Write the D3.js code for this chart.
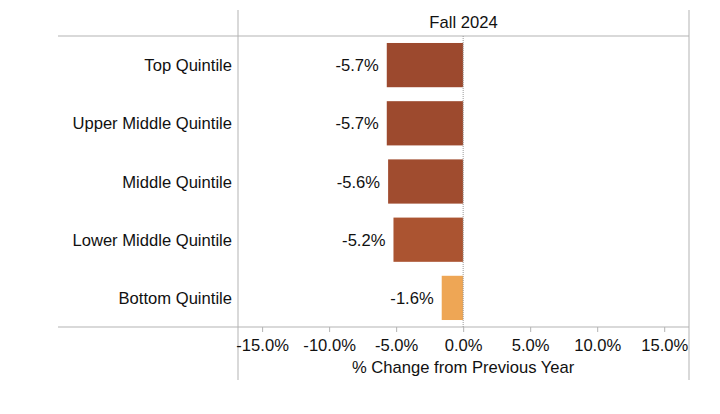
<!DOCTYPE html>
<html><head><meta charset="utf-8">
<script src="https://cdn.jsdelivr.net/npm/d3@7"></script>
<style>body{margin:0;background:#fff}text{font-family:"Liberation Sans",Arial,sans-serif;fill:#111}</style>
</head><body><svg id="c" width="720" height="414"></svg>
<script>
const categories = ["Top Quintile","Upper Middle Quintile","Middle Quintile","Lower Middle Quintile","Bottom Quintile"];
const values = [-5.7,-5.7,-5.6,-5.2,-1.6];
const barColors = ["#9c492e","#9d4a2e","#a04c2f","#ab5431","#eea655"];
const tickValues = [-15,-10,-5,0,5,10,15];
const title = "Fall 2024";
const axisTitle = "% Change from Previous Year";

const svg = d3.select("#c");
const L = 238, R = 689, T = 36, B = 327;
const FS = 16.6;
const x = d3.scaleLinear().domain([-16.8,16.85]).range([L,R]);
const y = d3.scaleBand().domain(categories).range([T,B]).paddingInner(0.24).paddingOuter(0.12);
const grey = "#b3b3b3";

svg.append("line").attr("x1",L).attr("x2",L).attr("y1",10).attr("y2",380).attr("stroke",grey);
svg.append("line").attr("x1",R).attr("x2",R).attr("y1",10).attr("y2",380).attr("stroke",grey);
svg.append("line").attr("x1",58).attr("x2",R).attr("y1",T).attr("y2",T).attr("stroke",grey);
svg.append("line").attr("x1",58).attr("x2",R).attr("y1",B).attr("y2",B).attr("stroke",grey);

svg.append("text").attr("x",(L+R)/2).attr("y",28).attr("text-anchor","middle").attr("font-size",FS).text(title);

svg.selectAll("rect.bar").data(values).join("rect")
  .attr("x",d=>x(Math.min(0,d))).attr("width",d=>Math.abs(x(d)-x(0)))
  .attr("y",(d,i)=>y(categories[i])).attr("height",y.bandwidth())
  .attr("fill",(d,i)=>barColors[i]);

svg.append("line").attr("x1",x(0)).attr("x2",x(0)).attr("y1",T).attr("y2",B)
  .attr("stroke","#999").attr("stroke-dasharray","1,1");

svg.selectAll("text.val").data(values).join("text")
  .attr("x",d=>x(d)-8).attr("y",(d,i)=>y(categories[i])+y.bandwidth()/2+6)
  .attr("text-anchor","end").attr("font-size",FS).text(d=>d.toFixed(1)+"%");

svg.selectAll("text.cat").data(categories).join("text")
  .attr("x",232).attr("y",d=>y(d)+y.bandwidth()/2+6)
  .attr("text-anchor","end").attr("font-size",FS).text(d=>d);

const ax = svg.append("g").attr("transform",`translate(0,${B})`)
  .call(d3.axisBottom(x).tickValues(tickValues).tickSize(5).tickPadding(6).tickFormat(d=>d.toFixed(1)+"%"));
ax.select(".domain").remove();
ax.selectAll("line").attr("stroke",grey);
ax.selectAll("text").attr("font-size",FS).attr("dy",null).attr("y",24).attr("fill","#111");

svg.append("text").attr("x",x(0)).attr("y",373).attr("text-anchor","middle").attr("font-size",FS).text(axisTitle);
</script></body></html>
